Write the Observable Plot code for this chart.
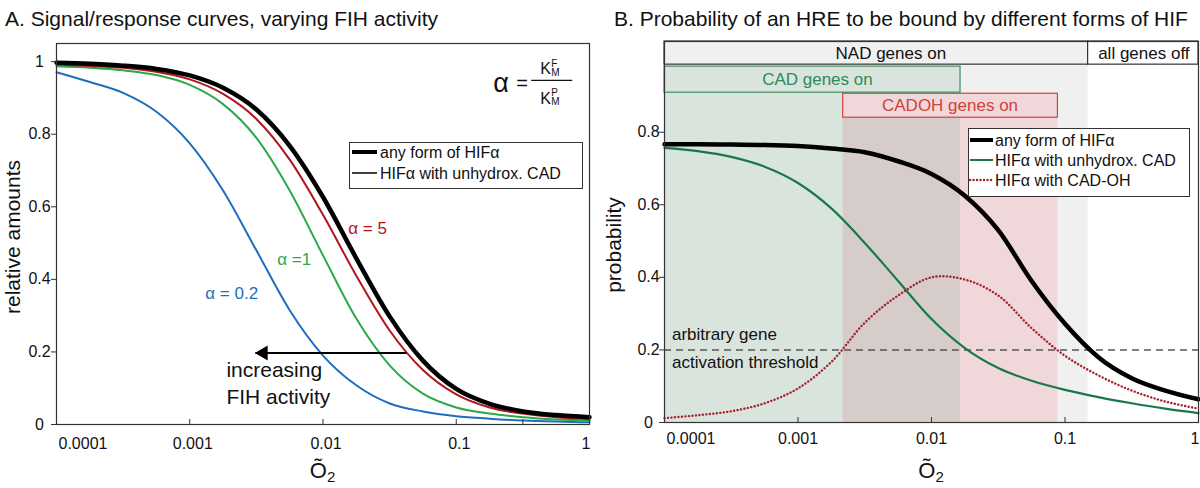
<!DOCTYPE html>
<html>
<head>
<meta charset="utf-8">
<script src="https://cdn.jsdelivr.net/npm/d3@7"></script>
<script src="https://cdn.jsdelivr.net/npm/@observablehq/plot@0.6"></script>
<style>
  body { margin: 0; background: #fff; font-family: "Liberation Sans", Arial, Helvetica, sans-serif; }
  #wrap { position: relative; width: 1200px; height: 488px; overflow: hidden; background: #fff; }
  .panel { position: absolute; top: 0; }
  .title { position: absolute; top: 7px; font-size: 21px; line-height: 24px; white-space: nowrap; color: #111; }
</style>
</head>
<body>
<div id="wrap">
  <div id="pa" class="panel" style="left:0px"></div>
  <div id="pb" class="panel" style="left:600px"></div>
  <div class="title" style="left:5px">A. Signal/response curves, varying FIH activity</div>
  <div class="title" style="left:614px">B. Probability of an HRE to be bound by different forms of HIF</div>
</div>
<script>
// ---------------- DATA ----------------
// O2 sample positions (quarter decades)
const o2 = [0.0001, 0.0001778, 0.0003162, 0.0005623, 0.001, 0.001778, 0.003162, 0.005623,
            0.01, 0.01778, 0.03162, 0.05623, 0.1, 0.1778, 0.3162, 0.5623, 1];

// Panel A: relative amounts
const anyFormA = [0.997, 0.994, 0.989, 0.980, 0.962, 0.928, 0.868, 0.768, 0.627, 0.458, 0.298, 0.176, 0.098, 0.057, 0.036, 0.026, 0.020];
const alpha5   = [0.992, 0.988, 0.983, 0.972, 0.951, 0.911, 0.842, 0.730, 0.578, 0.410, 0.259, 0.150, 0.083, 0.047, 0.030, 0.020, 0.015];
const alpha1   = [0.987, 0.983, 0.976, 0.963, 0.936, 0.883, 0.790, 0.645, 0.466, 0.292, 0.163, 0.085, 0.047, 0.030, 0.020, 0.014, 0.011];
const alpha02  = [0.971, 0.944, 0.914, 0.862, 0.775, 0.645, 0.480, 0.315, 0.190, 0.108, 0.058, 0.036, 0.023, 0.016, 0.011, 0.008, 0.006];

// Panel B: probabilities
const anyFormB  = [0.767, 0.767, 0.766, 0.765, 0.762, 0.755, 0.745, 0.720, 0.685, 0.625, 0.530, 0.390, 0.272, 0.180, 0.122, 0.088, 0.064];
const unhydroxB = [0.757, 0.748, 0.732, 0.705, 0.660, 0.590, 0.495, 0.390, 0.285, 0.205, 0.150, 0.115, 0.090, 0.070, 0.053, 0.038, 0.026];
const cadOHB    = [0.012, 0.020, 0.031, 0.053, 0.094, 0.167, 0.275, 0.350, 0.400, 0.394, 0.350, 0.260, 0.184, 0.130, 0.088, 0.058, 0.038];

const threshold = [0.2];

// gene activity regions (O2 boundaries)
const bandNames = ["NAD genes on", "CAD genes on", "CADOH genes on", "all genes off"];
const bandFrom  = [0.0001, 0.0001, 0.00218, 0.149];
const bandTo    = [0.149, 0.0165, 0.0885, 1];

// ticks
const xTickValues = [0.0001, 0.001, 0.01, 0.1, 1];
const xTickLabels = ["0.0001", "0.001", "0.01", "0.1", "1"];
const xTickMarksA = [0.001, 0.01, 0.1, 0.316];
const xTickMarksB = [0.001, 0.01, 0.1];
const yTickValues = [0, 0.2, 0.4, 0.6, 0.8, 1];
const yTickLabels = ["0", "0.2", "0.4", "0.6", "0.8", "1"];

// ---------------- STYLE ----------------
const FONT = '"Liberation Sans", Arial, Helvetica, sans-serif';
const C = {
  red: "#b4141e", green: "#2aa84a", blue: "#1e6ebe",
  greenB: "#19784a", redB: "#a5232d",
  gray: "#f0f0f0", greenFill: "#d9e4dd", brownFill: "#d6cdca", pinkFill: "#f0d8da",
  cadStroke: "#3d8f5f", cadText: "#2f8a57", cadohStroke: "#d5423d", cadohText: "#d2403c"
};
const DOTS = "0.1,3.4";
const yLabelMap = new Map(yTickValues.map((v, i) => [v, yTickLabels[i]]));

function txt(svg, x, y, s, o = {}) {
  const t = d3.select(svg).append("text")
    .attr("x", x).attr("y", y)
    .attr("font-family", FONT)
    .attr("font-size", o.size || 16)
    .attr("fill", o.fill || "#111")
    .attr("text-anchor", o.anchor || "start")
    .text(s);
  if (o.transform) t.attr("transform", o.transform);
  return t;
}
function xTickText(dy, dxMid) {
  return [
    Plot.text([0], {x: i => xTickValues[i], y: () => 0, text: i => xTickLabels[i], textAnchor: "start", lineAnchor: "top", dy, dx: 2, fontSize: 16}),
    Plot.text([1, 2, 3], {x: i => xTickValues[i], y: () => 0, text: i => xTickLabels[i], textAnchor: "middle", lineAnchor: "top", dy, dx: dxMid, fontSize: 16}),
    Plot.text([4], {x: i => xTickValues[i], y: () => 0, text: i => xTickLabels[i], textAnchor: "end", lineAnchor: "top", dy, dx: 1, fontSize: 16})
  ];
}

// ---------------- PANEL A ----------------
const A = {top: 43, right: 11, bottom: 64, left: 56};
const innerHA = 488 - A.top - A.bottom;
const arrowFrom = 0.0423, arrowTo = 0.00311, arrowY = 0.197;

const plotA = Plot.plot({
  width: 600, height: 488,
  marginTop: A.top, marginRight: A.right, marginBottom: A.bottom, marginLeft: A.left,
  style: {fontFamily: FONT, fontSize: "16px", color: "#111", background: "white", overflow: "visible"},
  x: {type: "log", domain: [1e-4, 1], axis: null},
  y: {domain: [0, 1.05], axis: null},
  marks: [
    Plot.line(o2, {x: d => d, y: (d, i) => alpha02[i], stroke: C.blue, strokeWidth: 2, curve: "monotone-x"}),
    Plot.line(o2, {x: d => d, y: (d, i) => alpha1[i], stroke: C.green, strokeWidth: 2, curve: "monotone-x"}),
    Plot.line(o2, {x: d => d, y: (d, i) => alpha5[i], stroke: C.red, strokeWidth: 2, curve: "monotone-x"}),
    Plot.line(o2, {x: d => d, y: (d, i) => anyFormA[i], stroke: "#000", strokeWidth: 4.5, curve: "monotone-x"}),
    Plot.link([0], {x1: () => arrowFrom, x2: () => arrowTo, y1: () => arrowY, y2: () => arrowY, stroke: "#000", strokeWidth: 2.2}),
    Plot.dot([0], {x: () => arrowTo, y: () => arrowY, symbol: "triangle", r: 5.5, fill: "#000", stroke: "none", rotate: -90, dx: 8}),
    Plot.axisY({ticks: yTickValues, tickSize: 5, tickPadding: 12, tickFormat: d => yLabelMap.get(d), textAnchor: "middle", fontSize: 16, label: null, stroke: "#333"}),
    Plot.tickX(xTickMarksA, {x: d => d, insetTop: innerHA - 5, stroke: "#333"}),
    ...xTickText(13, 3),
    Plot.frame({stroke: "#333", strokeWidth: 1.2})
  ]
});
document.getElementById("pa").appendChild(plotA);
{
  const sx = plotA.scale("x"), sy = plotA.scale("y");
  const svg = plotA;
  const g = d3.select(svg);
  txt(svg, 0, 0, "relative amounts", {size: 21, anchor: "middle", transform: "translate(20,237) rotate(-90)"});
  const xl = txt(svg, (sx.apply(1e-4) + sx.apply(1)) / 2, 478, "Õ", {size: 22, anchor: "middle"});
  xl.append("tspan").attr("font-size", 15).attr("dy", 4).text("2");
  txt(svg, sx.apply(0.00132), sy.apply(0.362) + 6, "α = 0.2", {size: 17, fill: C.blue});
  txt(svg, sx.apply(0.00457), sy.apply(0.455) + 6, "α =1", {size: 17, fill: C.green});
  txt(svg, sx.apply(0.0156), sy.apply(0.541) + 6, "α = 5", {size: 17, fill: C.red});
  txt(svg, sx.apply(0.0019), sy.apply(0.130), "increasing", {size: 21});
  txt(svg, sx.apply(0.0019), sy.apply(0.055), "FIH activity", {size: 21});
  const bx = sx.apply(0.191), by = sy.apply(0.914);
  txt(svg, bx, by, "α", {size: 27});
  txt(svg, bx + 23, by - 2, "=", {size: 20});
  g.append("line").attr("x1", bx + 38).attr("x2", bx + 79).attr("y1", by - 12).attr("y2", by - 12).attr("stroke", "#111").attr("stroke-width", 1.2);
  txt(svg, bx + 47, by - 18, "K", {size: 16});
  txt(svg, bx + 58, by - 25, "F", {size: 10});
  txt(svg, bx + 58, by - 16, "M", {size: 10});
  txt(svg, bx + 47, by + 12, "K", {size: 16});
  txt(svg, bx + 58, by + 4, "P", {size: 10});
  txt(svg, bx + 58, by + 13, "M", {size: 10});
  const fr = 600 - A.right;
  const lx = fr - 240, ly = A.top + 99;
  g.append("rect").attr("x", lx + 0.5).attr("y", ly + 0.5).attr("width", 233).attr("height", 46)
    .attr("fill", "white").attr("stroke", "#333").attr("stroke-width", 1);
  g.append("line").attr("x1", lx + 3).attr("x2", lx + 28).attr("y1", ly + 10).attr("y2", ly + 10).attr("stroke", "#000").attr("stroke-width", 4);
  g.append("line").attr("x1", lx + 3).attr("x2", lx + 28).attr("y1", ly + 31).attr("y2", ly + 31).attr("stroke", "#000").attr("stroke-width", 1.5);
  txt(svg, lx + 31, ly + 16, "any form of HIFα", {size: 16});
  txt(svg, lx + 31, ly + 37, "HIFα with unhydrox. CAD", {size: 16});
}

// ---------------- PANEL B ----------------
const B = {top: 41, right: 2, bottom: 66, left: 64};
const innerHB = 488 - B.top - B.bottom;
const rowNAD = [0.9862, 1.05], rowCAD = [0.909, 0.9807], rowCADOH = [0.840, 0.906];
const [nadFrom, cadFrom, cadohFrom, offFrom] = bandFrom;
const [nadTo, cadTo, cadohTo, offTo] = bandTo;

const plotB = Plot.plot({
  width: 600, height: 488,
  marginTop: B.top, marginRight: B.right, marginBottom: B.bottom, marginLeft: B.left,
  style: {fontFamily: FONT, fontSize: "16px", color: "#111", background: "white", overflow: "visible"},
  x: {type: "log", domain: [1e-4, 1], axis: null},
  y: {domain: [0, 1.05], axis: null},
  marks: [
    Plot.rect([0], {x1: () => nadFrom, x2: () => nadTo, y1: () => 0, y2: () => rowNAD[0], fill: C.gray}),
    Plot.rect([0], {x1: () => cadFrom, x2: () => cadTo, y1: () => 0, y2: () => rowCAD[1], fill: C.greenFill}),
    Plot.rect([0], {x1: () => cadTo, x2: () => cadohTo, y1: () => 0, y2: () => rowCADOH[0], fill: C.pinkFill}),
    Plot.rect([0], {x1: () => cadohFrom, x2: () => cadTo, y1: () => 0, y2: () => rowCADOH[0], fill: C.brownFill}),
    Plot.rect([0], {x1: () => cadohFrom, x2: () => cadohTo, y1: () => rowCADOH[0], y2: () => rowCADOH[1], fill: C.pinkFill, stroke: C.cadohStroke, strokeWidth: 1.2}),
    Plot.rect([0], {x1: () => cadFrom, x2: () => cadTo, y1: () => rowCAD[0], y2: () => rowCAD[1], fill: "none", stroke: C.cadStroke, strokeWidth: 1.2}),
    Plot.rect([0], {x1: () => nadFrom, x2: () => nadTo, y1: () => rowNAD[0], y2: () => rowNAD[1], fill: C.gray, stroke: "#333", strokeWidth: 1.2}),
    Plot.rect([0], {x1: () => offFrom, x2: () => offTo, y1: () => rowNAD[0], y2: () => rowNAD[1], fill: "white", stroke: "#333", strokeWidth: 1.2}),
    Plot.ruleY(threshold, {y: d => d, stroke: "#555", strokeWidth: 1.4, strokeDasharray: "7,5"}),
    Plot.line(o2, {x: d => d, y: (d, i) => unhydroxB[i], stroke: C.greenB, strokeWidth: 2.2, curve: "monotone-x"}),
    Plot.line(o2, {x: d => d, y: (d, i) => cadOHB[i], stroke: C.redB, strokeWidth: 2.4, strokeDasharray: DOTS, strokeLinecap: "round", curve: "catmull-rom"}),
    Plot.line(o2, {x: d => d, y: (d, i) => anyFormB[i], stroke: "#000", strokeWidth: 4.5, curve: "monotone-x"}),
    Plot.axisY({ticks: yTickValues.slice(0, 5), tickSize: 5, tickPadding: 11, tickFormat: d => yLabelMap.get(d), textAnchor: "middle", fontSize: 16, label: null, stroke: "#333"}),
    Plot.tickX(xTickMarksB, {x: d => d, insetTop: innerHB - 5, stroke: "#333"}),
    ...xTickText(10, 0),
    Plot.frame({stroke: "#333", strokeWidth: 1.2})
  ]
});
document.getElementById("pb").appendChild(plotB);
{
  const sx = plotB.scale("x"), sy = plotB.scale("y");
  const svg = plotB;
  const g = d3.select(svg);
  txt(svg, 0, 0, "probability", {size: 21, anchor: "middle", transform: "translate(21,245) rotate(-90)"});
  const xl = txt(svg, (sx.apply(1e-4) + sx.apply(1)) / 2, 478, "Õ", {size: 22, anchor: "middle"});
  xl.append("tspan").attr("font-size", 15).attr("dy", 4).text("2");
  const midNAD = (sy.apply(rowNAD[0]) + sy.apply(rowNAD[1])) / 2 + 6;
  txt(svg, sx.apply(0.005), midNAD, bandNames[0], {size: 17, anchor: "middle"});
  txt(svg, sx.apply(0.393), midNAD, bandNames[3], {size: 17, anchor: "middle"});
  txt(svg, sx.apply(0.00141), (sy.apply(rowCAD[0]) + sy.apply(rowCAD[1])) / 2 + 6, bandNames[1], {size: 17, anchor: "middle", fill: C.cadText});
  txt(svg, (sx.apply(cadohFrom) + sx.apply(cadohTo)) / 2, (sy.apply(rowCADOH[0]) + sy.apply(rowCADOH[1])) / 2 + 6, bandNames[2], {size: 17, anchor: "middle", fill: C.cadohText});
  const ty = sy.apply(threshold[0]);
  txt(svg, sx.apply(1e-4) + 8, ty - 9, "arbitrary gene", {size: 17});
  txt(svg, sx.apply(1e-4) + 8, ty + 19, "activation threshold", {size: 17});
  const fr = 600 - B.right;
  const lx = fr - 230, ly = B.top + 87;
  g.append("rect").attr("x", lx + 0.5).attr("y", ly + 0.5).attr("width", 221).attr("height", 68)
    .attr("fill", "white").attr("stroke", "#333").attr("stroke-width", 1);
  g.append("line").attr("x1", lx + 2).attr("x2", lx + 25).attr("y1", ly + 12).attr("y2", ly + 12).attr("stroke", "#000").attr("stroke-width", 4);
  g.append("line").attr("x1", lx + 2).attr("x2", lx + 25).attr("y1", ly + 32).attr("y2", ly + 32).attr("stroke", C.greenB).attr("stroke-width", 2);
  g.append("line").attr("x1", lx + 2).attr("x2", lx + 25).attr("y1", ly + 52).attr("y2", ly + 52).attr("stroke", C.redB).attr("stroke-width", 2.4).attr("stroke-dasharray", DOTS).attr("stroke-linecap", "round");
  txt(svg, lx + 27, ly + 18, "any form of HIFα", {size: 16});
  txt(svg, lx + 27, ly + 38, "HIFα with unhydrox. CAD", {size: 16});
  txt(svg, lx + 27, ly + 58, "HIFα with CAD-OH", {size: 16});
}
</script>
</body>
</html>
